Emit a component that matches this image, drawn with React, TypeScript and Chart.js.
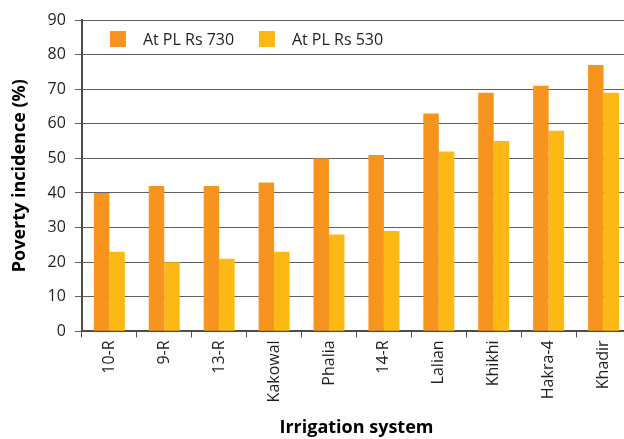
import React, { useEffect, useRef } from "react";
import { Chart, registerables } from "chart.js";

Chart.register(...registerables);

const categories = ["10-R", "9-R", "13-R", "Kakowal", "Phalia", "14-R", "Lalian", "Khikhi", "Hakra-4", "Khadir"];
const seriesRs730 = [40, 42, 42, 43, 50, 51, 63, 69, 71, 77];
const seriesRs530 = [23, 20, 21, 23, 28, 29, 52, 55, 58, 69];
const seriesLabels = ["At PL Rs 730", "At PL Rs 530"];
const yMin = 0;
const yMax = 90;
const yStep = 10;
const yTitle = "Poverty incidence (%)";
const xTitle = "Irrigation system";

const FONT = "'Open Sans', 'Noto Sans', sans-serif";
const TEXT = "#231f20";

const insideLegend = {
  id: "insideLegend",
  afterDraw(chart: any) {
    const ctx = chart.ctx;
    const area = chart.chartArea;
    ctx.save();
    ctx.font = `16px ${FONT}`;
    ctx.textBaseline = "middle";
    ctx.textAlign = "left";
    let x = area.left + 28;
    const y = area.top + 11;
    chart.data.datasets.forEach((ds: any) => {
      ctx.fillStyle = ds.backgroundColor;
      ctx.fillRect(x, y, 16, 16);
      ctx.fillStyle = TEXT;
      ctx.fillText(ds.label, x + 33, y + 9);
      x += 149;
    });
    ctx.restore();
  },
};

export default function App() {
  const ref = useRef<HTMLCanvasElement | null>(null);

  useEffect(() => {
    if (!ref.current) return;
    const chart = new Chart(ref.current, {
      type: "bar",
      data: {
        labels: categories,
        datasets: [
          { label: seriesLabels[0], data: seriesRs730, backgroundColor: "#f7941d" },
          { label: seriesLabels[1], data: seriesRs530, backgroundColor: "#fdb913" },
        ],
      },
      options: {
        responsive: false,
        animation: false,
        layout: { padding: { left: 0, right: 0, top: 20, bottom: 0 } },
        datasets: {
          bar: { categoryPercentage: 0.564, barPercentage: 1, borderWidth: 0 },
        },
        plugins: {
          legend: { display: false },
          tooltip: { enabled: false },
        },
        scales: {
          x: {
            offset: true,
            grid: {
              offset: true,
              drawOnChartArea: false,
              drawTicks: true,
              tickLength: 6,
              color: "#4d4d4f",
              lineWidth: 1,
            },
            border: { display: true, color: "#4d4d4f", width: 2 },
            ticks: {
              minRotation: 90,
              maxRotation: 90,
              padding: 3,
              color: TEXT,
              font: { family: FONT, size: 16 },
              autoSkip: false,
            },
            title: {
              display: true,
              text: xTitle,
              color: "#000",
              font: { family: FONT, size: 18, weight: "bold" },
              padding: { top: 12, bottom: 0 },
            },
          },
          y: {
            min: yMin,
            max: yMax,
            ticks: {
              stepSize: yStep,
              padding: 9,
              color: TEXT,
              font: { family: FONT, size: 16 },
            },
            grid: {
              color: "#5f6062",
              lineWidth: 1,
              tickLength: 7,
              drawTicks: true,
            },
            border: { display: true, color: "#4d4d4f", width: 2 },
            title: {
              display: true,
              text: yTitle,
              color: "#000",
              font: { family: FONT, size: 18, weight: "bold" },
              padding: { top: 9, bottom: 8 },
            },
          },
        },
      },
      plugins: [insideLegend],
    });
    return () => chart.destroy();
  }, []);

  return (
    <div
      style={{
        position: "fixed",
        left: 0,
        top: 0,
        width: 624,
        height: 439,
        overflow: "hidden",
        background: "#fff",
      }}
    >
      <canvas ref={ref} width={631} height={439} style={{ display: "block" }} />
    </div>
  );
}
